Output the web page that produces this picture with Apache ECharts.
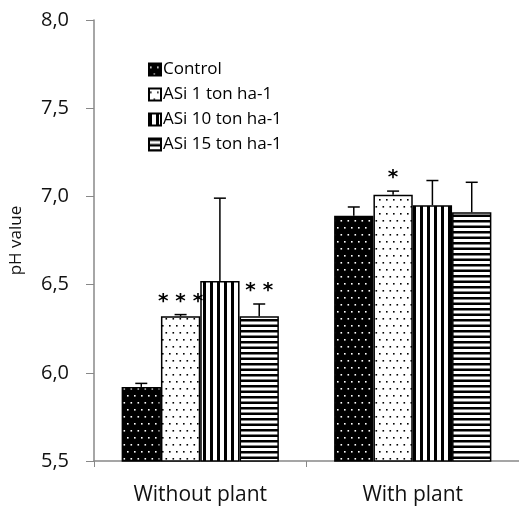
<!DOCTYPE html>
<html>
<head>
<meta charset="utf-8">
<script src="https://cdn.jsdelivr.net/npm/echarts@6/dist/echarts.min.js"></script>
<style>
    html, body {margin: 0; padding: 0; background: #fff;}
    #chart {width: 519px; height: 509px;}
</style>
</head>
<body>
<div id="chart"></div>
<script>
    const categories = ['Without plant', 'With plant'];
    const seriesNames = ['Control', 'ASi 1 ton ha-1', 'ASi 10 ton ha-1', 'ASi 15 ton ha-1'];
    const controlValues = [5.92, 6.89];
    const asi1Values = [6.32, 7.01];
    const asi10Values = [6.52, 6.95];
    const asi15Values = [6.32, 6.91];
    const controlErr = [0.02, 0.05];
    const asi1Err = [0.01, 0.02];
    const asi10Err = [0.47, 0.14];
    const asi15Err = [0.07, 0.17];
    const controlStars = ['', ''];
    const asi1Stars = ['* * *', '*'];
    const asi10Stars = ['', ''];
    const asi15Stars = ['* *', ''];
    const yTicks = [5.5, 6.0, 6.5, 7.0, 7.5, 8.0];

    const values = [controlValues, asi1Values, asi10Values, asi15Values];
    const errors = [controlErr, asi1Err, asi10Err, asi15Err];
    const stars = [controlStars, asi1Stars, asi10Stars, asi15Stars];

    // pattern tiles
    function dots(bg, fg) {
        const c = document.createElement('canvas');
        c.width = 7; c.height = 14;
        const ctx = c.getContext('2d');
        ctx.fillStyle = bg;
        ctx.fillRect(0, 0, 7, 14);
        ctx.fillStyle = fg;
        ctx.fillRect(1, 3, 1.6, 1.6);
        ctx.fillRect(4.5, 10, 1.6, 1.6);
        return c;
    }
    function stripes(vertical) {
        const c = document.createElement('canvas');
        c.width = vertical ? 7 : 8;
        c.height = vertical ? 8 : 11;
        const ctx = c.getContext('2d');
        ctx.fillStyle = '#fff';
        ctx.fillRect(0, 0, c.width, c.height);
        ctx.fillStyle = '#000';
        if (vertical) {
            ctx.fillRect(0, 0, 3, c.height);
        } else {
            ctx.fillRect(0, 0, c.width, 2.5);
            ctx.fillRect(0, 5.5, c.width, 2.5);
        }
        return c;
    }
    const patterns = [dots('#000', '#fff'), dots('#fff', '#000'), stripes(true), stripes(false)];

    const catGap = 0.26;
    const series = [];
    values.forEach((vals, i) => {
        series.push({
            name: seriesNames[i],
            type: 'bar',
            data: vals,
            barGap: 0,
            barCategoryGap: (catGap * 100) + '%',
            itemStyle: {
                color: {image: patterns[i], repeat: 'repeat'},
                borderColor: '#000',
                borderWidth: 1.5
            }
        });
    });
    values.forEach((vals, i) => {
        series.push({
            type: 'custom',
            z: 5,
            silent: true,
            data: vals.map((v, k) => [k, v, errors[i][k]]),
            renderItem: function (params, api) {
                const k = api.value(0);
                const v = api.value(1);
                const e = api.value(2);
                const center = api.coord([k, v]);
                const bandW = api.size([1, 0])[0];
                const barW = bandW * (1 - catGap) / 4;
                const x = center[0] + (i - 1.5) * barW;
                const yTop = api.coord([k, v + e])[1];
                const y0 = center[1];
                const children = [
                    {type: 'line', shape: {x1: x, y1: y0, x2: x, y2: yTop},
                        style: {stroke: '#000', lineWidth: 1.5}},
                    {type: 'line', shape: {x1: x - 6, y1: yTop, x2: x + 6, y2: yTop},
                        style: {stroke: '#000', lineWidth: 1.5}}
                ];
                const s = stars[i][k];
                if (s) {
                    children.push({
                        type: 'text',
                        style: {
                            text: s, x: x, y: yTop - 3,
                            align: 'center', verticalAlign: 'bottom',
                            font: 'bold 20px "DejaVu Sans"', fill: '#000'
                        }
                    });
                }
                return {type: 'group', children: children};
            }
        });
    });

    const chart = echarts.init(document.getElementById('chart'), null, {renderer: 'canvas'});
    chart.setOption({
        animation: false,
        grid: {left: 94, right: 0, top: 20, bottom: 48},
        legend: {
            data: seriesNames,
            orient: 'vertical',
            left: 143,
            top: 56,
            itemWidth: 12,
            itemHeight: 12,
            itemGap: 8,
            icon: 'rect',
            textStyle: {fontFamily: 'Open Sans', fontSize: 17, color: '#000', padding: [0, 0, 0, -3]}
        },
        xAxis: {
            type: 'category',
            data: categories,
            axisLine: {lineStyle: {color: '#888', width: 1.5}},
            axisTick: {show: true, length: 6, lineStyle: {color: '#888'}},
            axisLabel: {fontFamily: 'Open Sans', fontSize: 21, color: '#111', margin: 24}
        },
        yAxis: {
            type: 'value',
            min: yTicks[0],
            max: yTicks[yTicks.length - 1],
            interval: 0.5,
            name: 'pH value',
            nameLocation: 'middle',
            nameGap: 69,
            nameTextStyle: {fontFamily: 'Open Sans', fontSize: 17, color: '#111'},
            splitLine: {show: false},
            axisLine: {show: true, lineStyle: {color: '#888', width: 1.5}},
            axisTick: {show: true, length: 8, lineStyle: {color: '#888'}},
            axisLabel: {
                fontFamily: 'Open Sans', fontSize: 20, color: '#111', margin: 25,
                formatter: v => v.toFixed(1).replace('.', ',')
            }
        },
        series: series
    });
</script>
</body>
</html>
